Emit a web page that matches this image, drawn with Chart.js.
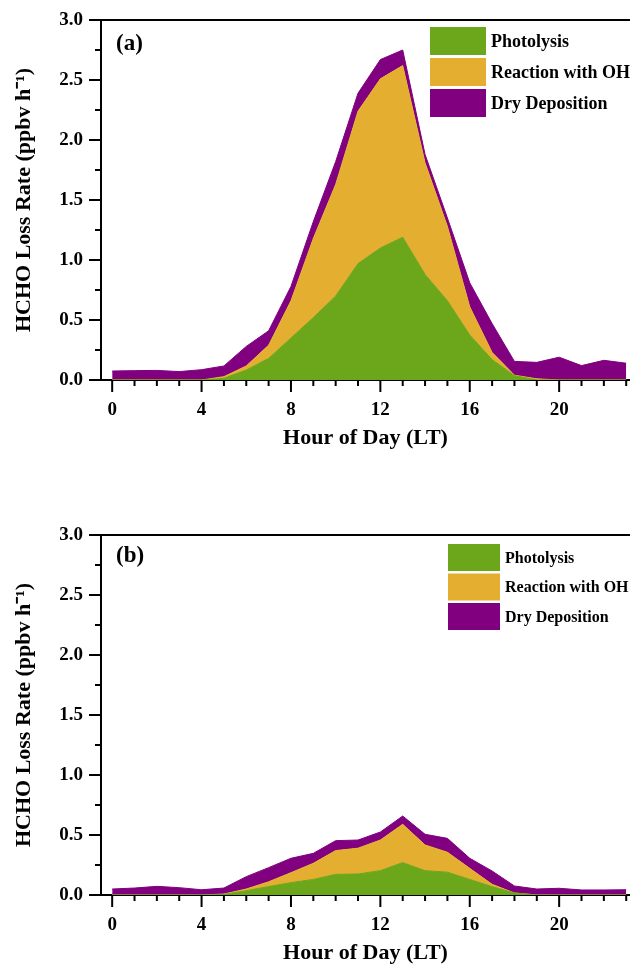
<!DOCTYPE html>
<html>
<head>
<meta charset="utf-8">
<script src="https://cdn.jsdelivr.net/npm/chart.js@4.4.0/dist/chart.umd.min.js"></script>
<style>
  body { margin: 0; background: #fff; }
  #wrap { position: relative; width: 630px; height: 970px; }
  canvas { position: absolute; left: 0; }
</style>
</head>
<body>
<div id="wrap">
  <canvas id="chartA" width="630" height="485" style="top:0"></canvas>
  <canvas id="chartB" width="630" height="485" style="top:485px"></canvas>
</div>
<script>
const hours = [0,1,2,3,4,5,6,7,8,9,10,11,12,13,14,15,16,17,18,19,20,21,22,23];
const seriesNames = ['Photolysis', 'Reaction with OH', 'Dry Deposition'];
const seriesColors = ['#6ca61b', '#e4af31', '#800080'];

// panel (a), ppbv/h
const photolysisA = [0,0,0,0,0,0.014,0.083,0.18,0.35,0.52,0.70,0.97,1.10,1.19,0.88,0.66,0.375,0.17,0.036,0,0,0,0,0];
const reactionOHA = [0,0,0,0,0,0.014,0.034,0.11,0.31,0.66,0.93,1.27,1.41,1.43,0.93,0.62,0.235,0.06,0.004,0.01,0,0,0,0];
const dryDepA     = [0.075,0.078,0.08,0.07,0.086,0.089,0.163,0.12,0.12,0.14,0.19,0.15,0.16,0.13,0.07,0.07,0.20,0.24,0.115,0.137,0.19,0.12,0.164,0.14];

// panel (b), ppbv/h
const photolysisB = [0,0,0,0,0,0.005,0.036,0.07,0.103,0.13,0.172,0.175,0.203,0.27,0.203,0.19,0.13,0.07,0.017,0,0,0,0,0];
const reactionOHB = [0,0,0,0,0,0.003,0.014,0.04,0.083,0.134,0.198,0.215,0.255,0.319,0.214,0.166,0.092,0.019,0,0,0,0,0,0];
const dryDepB     = [0.05,0.058,0.072,0.061,0.044,0.05,0.103,0.118,0.12,0.083,0.083,0.068,0.067,0.069,0.089,0.116,0.084,0.111,0.058,0.05,0.056,0.042,0.042,0.044];

const FONT = '"Liberation Serif", "Times New Roman", serif';

// frame line, major/minor ticks, panel tag and legend
const decorPlugin = {
  id: 'decor',
  afterDraw(chart, args, opts) {
    const { ctx, chartArea: a, scales: { x, y } } = chart;
    ctx.save();
    ctx.strokeStyle = '#000';
    ctx.lineWidth = 2;
    ctx.beginPath();
    ctx.moveTo(a.left, a.top);
    ctx.lineTo(a.right, a.top);
    ctx.stroke();

    hours.forEach(h => {
      const px = x.getPixelForValue(h);
      const len = h % 4 === 0 ? 12 : 6;
      ctx.beginPath();
      ctx.moveTo(px, a.bottom);
      ctx.lineTo(px, a.bottom + len);
      ctx.stroke();
    });
    y.ticks.forEach(t => {
      const py = y.getPixelForValue(t.value);
      const len = Math.round(t.value * 4) % 2 === 0 ? 12 : 6;
      ctx.beginPath();
      ctx.moveTo(a.left, py);
      ctx.lineTo(a.left - len, py);
      ctx.stroke();
    });

    ctx.fillStyle = '#000';
    ctx.font = 'bold 23px ' + FONT;
    ctx.textBaseline = 'alphabetic';
    ctx.fillText(opts.tag, a.left + 15, a.top + opts.tagY);

    const lg = opts.legend;
    ctx.font = 'bold ' + lg.size + 'px ' + FONT;
    ctx.textBaseline = 'middle';
    chart.data.datasets.forEach((ds, i) => {
      const top = a.top + lg.top + i * lg.pitch;
      ctx.fillStyle = ds.backgroundColor;
      ctx.fillRect(a.left + lg.left, top, lg.w, lg.h);
      ctx.fillStyle = '#000';
      ctx.fillText(ds.label, a.left + lg.left + lg.w + 5, top + lg.h / 2 + 1);
    });
    ctx.restore();
  }
};

function makeChart(id, parts, tag, tagY, legend, padTop, padBottom) {
  const datasets = parts.map((arr, i) => ({
    label: seriesNames[i],
    data: hours.map((h, k) => ({ x: h, y: arr[k] })),
    backgroundColor: seriesColors[i],
    borderColor: seriesColors[i],
    borderWidth: 1,
    pointRadius: 0,
    tension: 0,
    fill: i === 0 ? 'origin' : '-1'
  }));
  return new Chart(document.getElementById(id), {
    type: 'line',
    data: { datasets },
    options: {
      responsive: false,
      animation: false,
      layout: { autoPadding: false, padding: { top: padTop, bottom: padBottom, left: 0, right: 0 } },
      plugins: {
        legend: { display: false },
        tooltip: { enabled: false },
        decor: { tag, tagY, legend }
      },
      scales: {
        x: {
          type: 'linear',
          min: -0.5,
          max: 23.17,
          afterBuildTicks: s => { s.ticks = hours.map(v => ({ value: v })); },
          afterFit: s => { s.height = 72; s.paddingLeft = 0; s.paddingRight = 0; },
          grid: { drawOnChartArea: false, drawTicks: false },
          border: { color: '#000', width: 2 },
          ticks: {
            autoSkip: false,
            maxRotation: 0,
            padding: 19,
            color: '#000',
            font: { family: FONT, weight: 'bold', size: 19 },
            callback: v => (v % 4 === 0 ? String(v) : '')
          },
          title: {
            display: true,
            text: 'Hour of Day (LT)',
            color: '#000',
            padding: 0,
            font: { family: FONT, weight: 'bold', size: 22 }
          }
        },
        y: {
          stacked: true,
          min: 0,
          max: 3,
          afterFit: s => { s.width = 101; s.paddingTop = 0; s.paddingBottom = 0; },
          grid: { drawOnChartArea: false, drawTicks: false },
          border: { color: '#000', width: 2 },
          ticks: {
            stepSize: 0.25,
            autoSkip: false,
            padding: 18,
            color: '#000',
            font: { family: FONT, weight: 'bold', size: 19 },
            callback: v => (Math.round(v * 4) % 2 === 0 ? v.toFixed(1) : '')
          },
          title: {
            display: true,
            text: 'HCHO Loss Rate (ppbv h\u207B\u00B9)',
            color: '#000',
            padding: { top: 11, bottom: 0 },
            font: { family: FONT, weight: 'bold', size: 22 }
          }
        }
      }
    },
    plugins: [decorPlugin]
  });
}

makeChart('chartA', [photolysisA, reactionOHA, dryDepA], '(a)', 30,
  { left: 329, top: 7, w: 56, h: 28, pitch: 31, size: 18 }, 20, 33);
makeChart('chartB', [photolysisB, reactionOHB, dryDepB], '(b)', 27,
  { left: 347, top: 9, w: 52, h: 27, pitch: 29.5, size: 16 }, 50, 3);
</script>
</body>
</html>
